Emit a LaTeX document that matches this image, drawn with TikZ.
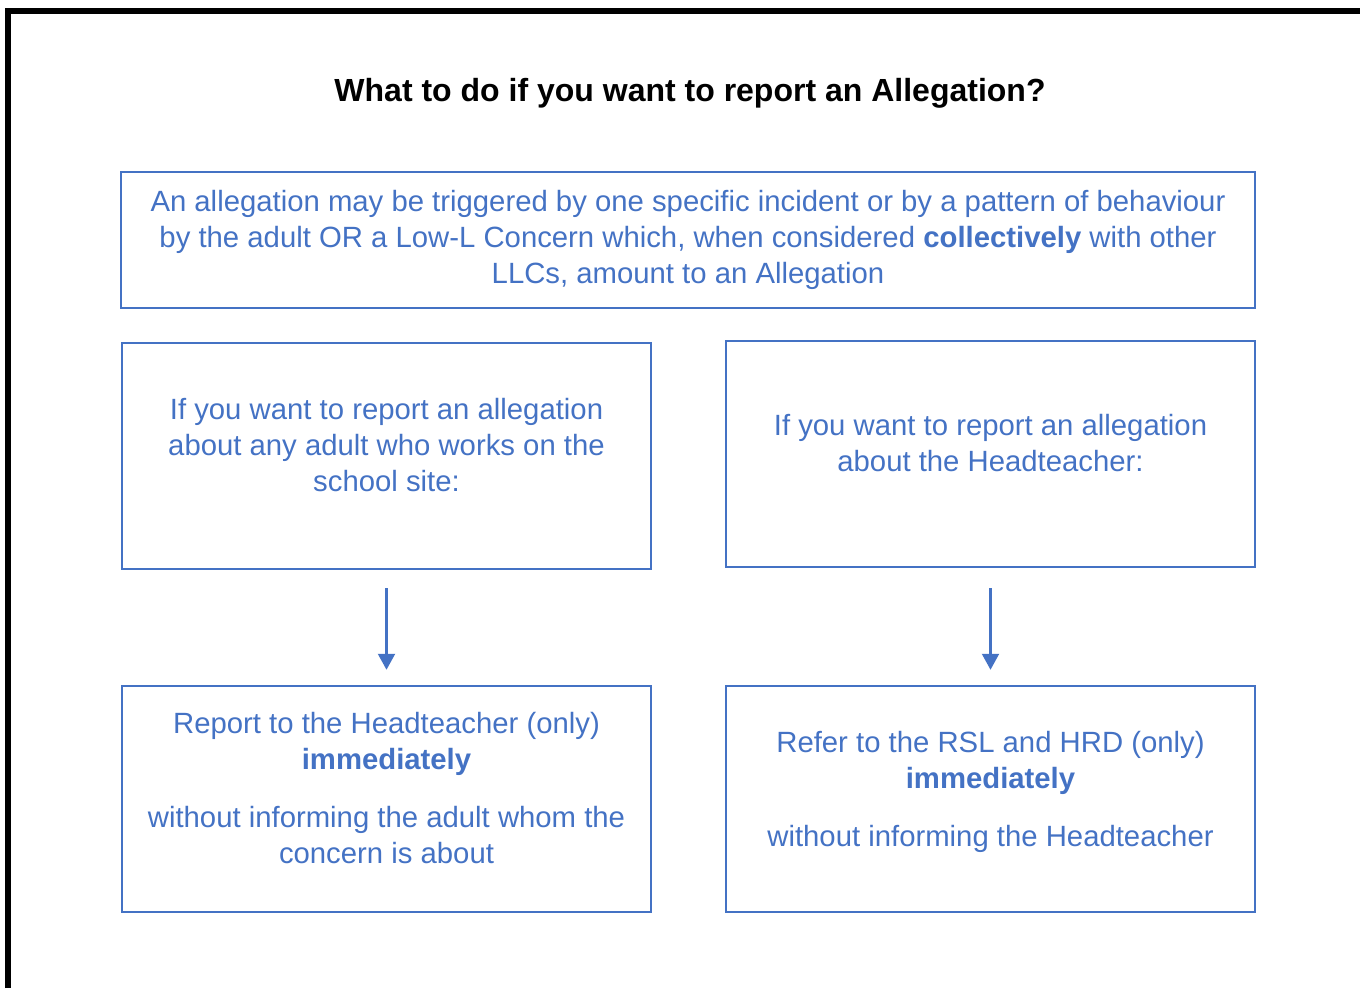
\documentclass[tikz,border=0pt]{standalone}
\usepackage{fontspec}
\setmainfont{Liberation Sans}
\usetikzlibrary{arrows.meta}
\definecolor{ofblue}{HTML}{4472C4}
\begin{document}
\begin{tikzpicture}[x=1pt,y=-1pt,
  box/.style={draw=ofblue, line width=2.5pt, inner sep=0pt, minimum width=529pt, minimum height=226pt},
  txt/.style={text=ofblue, align=center, inner sep=0pt, anchor=base, font=\fontsize{29.3}{36}\selectfont},
  arr/.style={draw=ofblue, line width=2.2pt, -{Triangle[width=17pt,length=16pt]}}]
\useasboundingbox (0,0) rectangle (1360,988);
\draw[line width=6pt, line join=miter] (8,988) -- (8,10.5) -- (1360,10.5);
\node[anchor=base, inner sep=0pt, font=\fontsize{32}{38}\selectfont\bfseries] (title) at (690,101) {What to do if you want to report an Allegation?};
\node[box, minimum width=1134pt, minimum height=136pt] (top) at (688,240) {};
\node[box] (lm) at (386.5,456) {};
\node[box] (rm) at (990.5,454) {};
\node[box] (lb) at (386.5,799) {};
\node[box] (rb) at (990.5,799) {};
\node[txt] (toptxt) at (688,283) {An allegation may be triggered by one specific incident or by a pattern of behaviour\\by the adult OR a Low-L Concern which, when considered \textbf{collectively} with other\\LLCs, amount to an Allegation};
\node[txt] (lmtxt) at (386.5,491) {If you want to report an allegation\\about any adult who works on the\\school site:};
\node[txt] (rmtxt) at (990.5,471) {If you want to report an allegation\\about the Headteacher:};
\node[txt] (lbtxt) at (386.5,863) {Report to the Headteacher (only)\\\textbf{immediately}\\[22pt]without informing the adult whom the\\concern is about};
\node[txt] (rbtxt) at (990.5,846) {Refer to the RSL and HRD (only)\\\textbf{immediately}\\[22pt]without informing the Headteacher};
\draw[arr, shorten <=18pt, shorten >=15pt] (lm.south) -- (lb.north);
\draw[arr, shorten <=20pt, shorten >=15pt] (rm.south) -- (rb.north);
\end{tikzpicture}
\end{document}
